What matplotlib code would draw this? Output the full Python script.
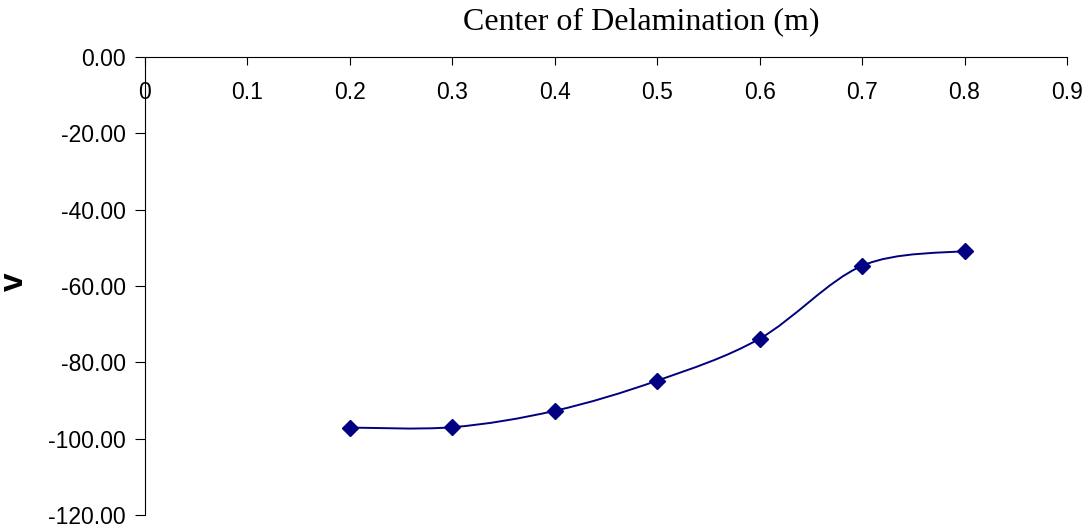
import numpy as np
import matplotlib
matplotlib.use("Agg")
import matplotlib.pyplot as plt
from matplotlib.path import Path
from matplotlib.patches import PathPatch

# data
centre = [0.2, 0.3, 0.4, 0.5, 0.6, 0.7, 0.8]
v = [-97.1, -97.0, -92.7, -84.8, -73.8, -54.7, -50.8]
xticks = [0, 0.1, 0.2, 0.3, 0.4, 0.5, 0.6, 0.7, 0.8, 0.9]
yticks = [0, -20, -40, -60, -80, -100, -120]

NAVY = "#000080"


def smooth_path(x, y, t=1.0 / 6):
    # Excel-style smoothed line: cubic Bezier through each point
    x = np.asarray(x, float)
    y = np.asarray(y, float)
    n = len(x)
    verts = [(x[0], y[0])]
    codes = [Path.MOVETO]
    for i in range(n - 1):
        i0 = max(i - 1, 0)
        i3 = min(i + 2, n - 1)
        c1 = (x[i] + (x[i + 1] - x[i0]) * t, y[i] + (y[i + 1] - y[i0]) * t)
        c2 = (x[i + 1] - (x[i3] - x[i]) * t, y[i + 1] - (y[i3] - y[i]) * t)
        verts += [c1, c2, (x[i + 1], y[i + 1])]
        codes += [Path.CURVE4] * 3
    return Path(verts, codes)


def main():
    fig = plt.figure(figsize=(10.86, 5.27), dpi=100)
    ax = fig.add_axes([0.1335, 0.0228, 0.8490, 0.8690])

    ax.add_patch(PathPatch(smooth_path(centre, v), fc="none", ec=NAVY, lw=1.4))
    ax.plot(centre, v, ls="none", marker="D", ms=8.5, color=NAVY)

    ax.set_xlim(0, 0.9)
    ax.set_ylim(-120, 0)

    ax.spines["top"].set_visible(False)
    ax.spines["right"].set_visible(False)
    ax.spines["bottom"].set_position(("data", 0))

    ax.set_xticks(xticks)
    ax.set_xticklabels([("%g" % t) for t in xticks],
                       family="Liberation Sans", fontsize=16.5)
    ax.set_yticks(yticks)
    ax.set_yticklabels(["%.2f" % t for t in yticks],
                       family="Liberation Sans", fontsize=16.5)
    ax.tick_params(axis="x", direction="out", length=6, pad=11)
    ax.tick_params(axis="y", direction="out", length=7, pad=7)

    fig.text(641 / 1086, 1 - 22 / 527, "Center of Delamination (m)",
             family="Liberation Serif", fontsize=23, ha="center", va="center")
    fig.text(14 / 1086, 1 - 282 / 527, "v", family="Liberation Sans",
             fontweight="bold", fontsize=24, rotation=90,
             ha="center", va="center")

    fig.savefig("out.png", dpi=100)


if __name__ == "__main__":
    main()
